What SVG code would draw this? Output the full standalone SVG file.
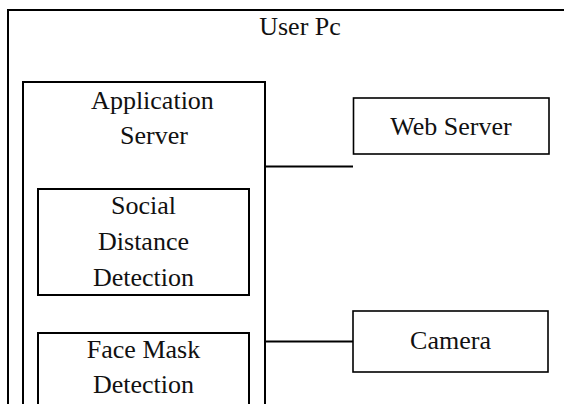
<svg xmlns="http://www.w3.org/2000/svg" width="564" height="404" viewBox="0 0 564 404">
  <style>
    .box { fill: none; stroke: #000; stroke-width: 2; }
    .thin { fill: #fff; stroke: #000; stroke-width: 1.6; }
    .wire { stroke: #000; stroke-width: 2; fill: none; }
    text { font-family: "Liberation Serif", "Times New Roman", serif; font-size: 26px; fill: #111; text-anchor: middle; }
  </style>
  <rect width="564" height="404" fill="#fff"/>

  <!-- outer frame: user PC -->
  <g id="user-pc">
    <path class="box" d="M8 410 V10 H570"/>
    <text x="300" y="35">User Pc</text>
  </g>

  <!-- application server container -->
  <g id="application-server">
    <path class="box" d="M23 410 V82 H265 V410"/>
    <text x="152.5" y="109">Application</text>
    <text x="154" y="144">Server</text>
  </g>

  <g id="social-distance-detection">
    <rect class="box" x="38" y="189" width="211" height="106"/>
    <text x="143.5" y="214">Social</text>
    <text x="143.5" y="250">Distance</text>
    <text x="143.5" y="286">Detection</text>
  </g>

  <g id="face-mask-detection">
    <path class="box" d="M38 410 V333 H249 V410"/>
    <text x="143.5" y="358">Face Mask</text>
    <text x="143.5" y="393">Detection</text>
  </g>

  <g id="web-server">
    <rect class="thin" x="353.5" y="98" width="195.5" height="56"/>
    <text x="451" y="135">Web Server</text>
  </g>

  <g id="camera">
    <rect class="thin" x="353" y="311" width="195" height="61"/>
    <text x="450.5" y="349">Camera</text>
  </g>

  <!-- links from the application server -->
  <g id="connectors">
    <line class="wire" x1="265" y1="166.5" x2="353" y2="166.5"/>
    <line class="wire" x1="265" y1="341.5" x2="353" y2="341.5"/>
  </g>
</svg>
